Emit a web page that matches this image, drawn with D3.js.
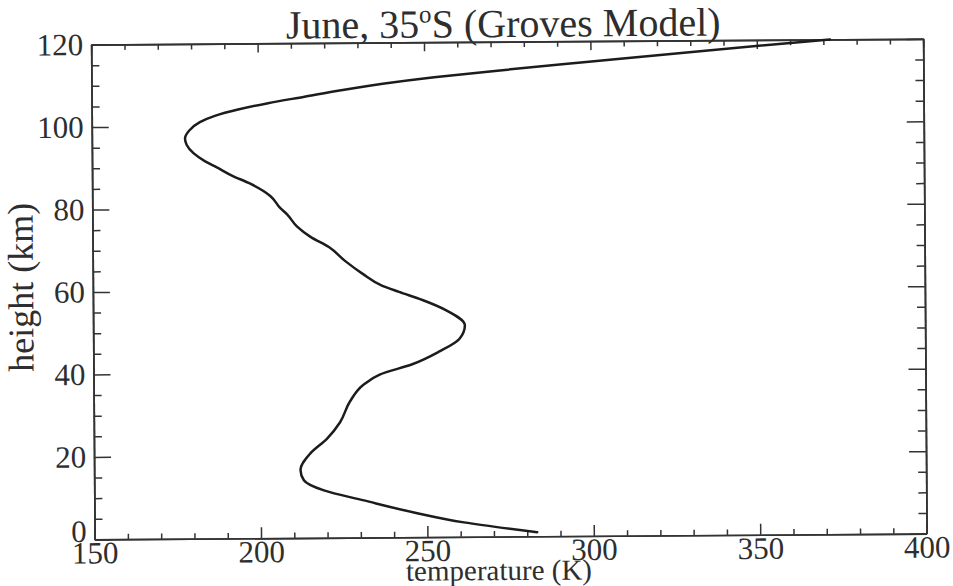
<!DOCTYPE html>
<html>
<head>
<meta charset="utf-8">
<script src="https://cdn.jsdelivr.net/npm/d3@7"></script>
<style>
  html, body { margin: 0; padding: 0; background: #fff; }
  svg { display: block; }
  text { font-family: "Liberation Serif", "Times New Roman", serif; fill: #2e2e2e; }
</style>
</head>
<body>
<svg id="chart" width="953" height="586"></svg>
<script>
// Temperature profile, June at 35°S (Groves reference atmosphere)
const heightKm = [1, 3.5, 6, 9, 11.5, 14, 16.5, 20.5, 24, 28, 33, 37, 39.5, 42, 45, 48, 51.3, 55, 57.5, 59.5,
                  61, 64, 67, 70.5, 73, 75.5, 78.5, 80, 83, 86, 88, 90, 91.5, 93.5, 95.5, 97, 99, 101,
                  102.5, 104, 105.5, 107, 108.5, 110, 111.5, 113, 115, 117.5, 120];
const temperatureK = [283, 261, 246, 231, 219, 213, 212, 215, 220, 224, 227, 231, 236, 246, 254, 260, 261.7, 256, 249, 242,
                      237, 231, 226, 221, 215.5, 211.5, 208.5, 206.5, 203.5, 197.5, 192, 187.5, 184, 180.5, 178.5, 178, 179.3, 182.5,
                      187, 194, 203, 214, 225, 237.5, 253, 272, 299.5, 334.5, 372];

const xMajorTicks = [150, 200, 250, 300, 350, 400];
const xMinorTicks = d3.range(150, 401, 10).filter(v => v % 50 !== 0);
const yMajorTicks = [0, 20, 40, 60, 80, 100, 120];
const yMinorTicks = d3.range(0, 121, 5).filter(v => v % 20 !== 0);

const titleMain = "June, 35";
const titleSup = "o";
const titleRest = "S (Groves Model)";
const xTitle = "temperature (K)";
const yTitle = "height (km)";

const W = 953, H = 586;
const margin = { top: 41.7, right: 28.1, bottom: 49.5, left: 92.9 };
const iw = W - margin.left - margin.right;
const ih = H - margin.top - margin.bottom;

const svg = d3.select("#chart");
// the whole sheet sits a little askew on the page
const sheet = svg.append("g")
  .attr("transform", `rotate(-0.4 ${margin.left + iw / 2} ${margin.top + ih / 2})`);

const g = sheet.append("g").attr("transform", `translate(${margin.left},${margin.top})`);

const x = d3.scaleLinear().domain([150, 400]).range([0, iw]);
const y = d3.scaleLinear().domain([0, 120]).range([ih, 0]);

const axisColor = "#333";
function styleAxis(sel) {
  sel.selectAll("path.domain").attr("stroke", axisColor).attr("stroke-width", 1.7);
  sel.selectAll(".tick line").attr("stroke", axisColor).attr("stroke-width", 1.5);
  sel.selectAll(".tick text").attr("fill", "#2e2e2e")
    .style("font-family", '"Liberation Serif", "Times New Roman", serif')
    .style("font-size", "31px");
}

// bottom axis: labelled majors, inward ticks
g.append("g").attr("transform", `translate(0,${ih})`)
  .call(d3.axisBottom(x).tickValues(xMinorTicks).tickSize(-5.5).tickSizeOuter(0).tickFormat(""))
  .call(styleAxis);
g.append("g").attr("transform", `translate(0,${ih})`)
  .call(d3.axisBottom(x).tickValues(xMajorTicks).tickSize(-11).tickSizeOuter(0).tickPadding(2).tickFormat(d3.format("d")))
  .call(styleAxis);

// top axis
g.append("g")
  .call(d3.axisTop(x).tickValues(xMinorTicks).tickSize(-5.5).tickSizeOuter(0).tickFormat(""))
  .call(styleAxis);
g.append("g")
  .call(d3.axisTop(x).tickValues(xMajorTicks).tickSize(-9).tickSizeOuter(0).tickFormat(""))
  .call(styleAxis);

// left axis
g.append("g")
  .call(d3.axisLeft(y).tickValues(yMinorTicks).tickSize(-8).tickSizeOuter(0).tickFormat(""))
  .call(styleAxis);
const leftMajor = g.append("g")
  .call(d3.axisLeft(y).tickValues(yMajorTicks).tickSize(-17).tickSizeOuter(0).tickPadding(8).tickFormat(d3.format("d")))
  .call(styleAxis);
// the zero label is nudged up, clear of the 150 label beneath it
leftMajor.selectAll(".tick text").filter(d => d === 0).attr("y", -8);

// right axis
g.append("g").attr("transform", `translate(${iw},0)`)
  .call(d3.axisRight(y).tickValues(yMinorTicks).tickSize(-8).tickSizeOuter(0).tickFormat(""))
  .call(styleAxis);
g.append("g").attr("transform", `translate(${iw},0)`)
  .call(d3.axisRight(y).tickValues(yMajorTicks).tickSize(-17).tickSizeOuter(0).tickFormat(""))
  .call(styleAxis);

// profile curve, traced top to bottom so the screen y runs one way
const profile = heightKm.map((h, i) => ({ h, t: temperatureK[i] }))
  .sort((a, b) => b.h - a.h);
const line = d3.line()
  .x(d => x(d.t))
  .y(d => y(d.h))
  .curve(d3.curveMonotoneY);

g.append("path")
  .datum(profile)
  .attr("d", line)
  .attr("fill", "none")
  .attr("stroke", "#1c1c1c")
  .attr("stroke-width", 2.5)
  .attr("stroke-linejoin", "round")
  .attr("stroke-linecap", "round");

// title
const title = sheet.append("text")
  .attr("x", 505)
  .attr("y", 37)
  .attr("text-anchor", "middle")
  .style("font-size", "40px");
title.append("tspan").text(titleMain);
title.append("tspan").attr("dy", -15).style("font-size", "25px").text(titleSup);
title.append("tspan").attr("dy", 15).text(titleRest);

// axis titles
sheet.append("text")
  .attr("x", 497)
  .attr("y", 580)
  .attr("text-anchor", "middle")
  .style("font-size", "29px")
  .text(xTitle);

sheet.append("text")
  .attr("transform", "translate(33,284) rotate(-90)")
  .attr("text-anchor", "middle")
  .style("font-size", "36px")
  .text(yTitle);
</script>
</body>
</html>
